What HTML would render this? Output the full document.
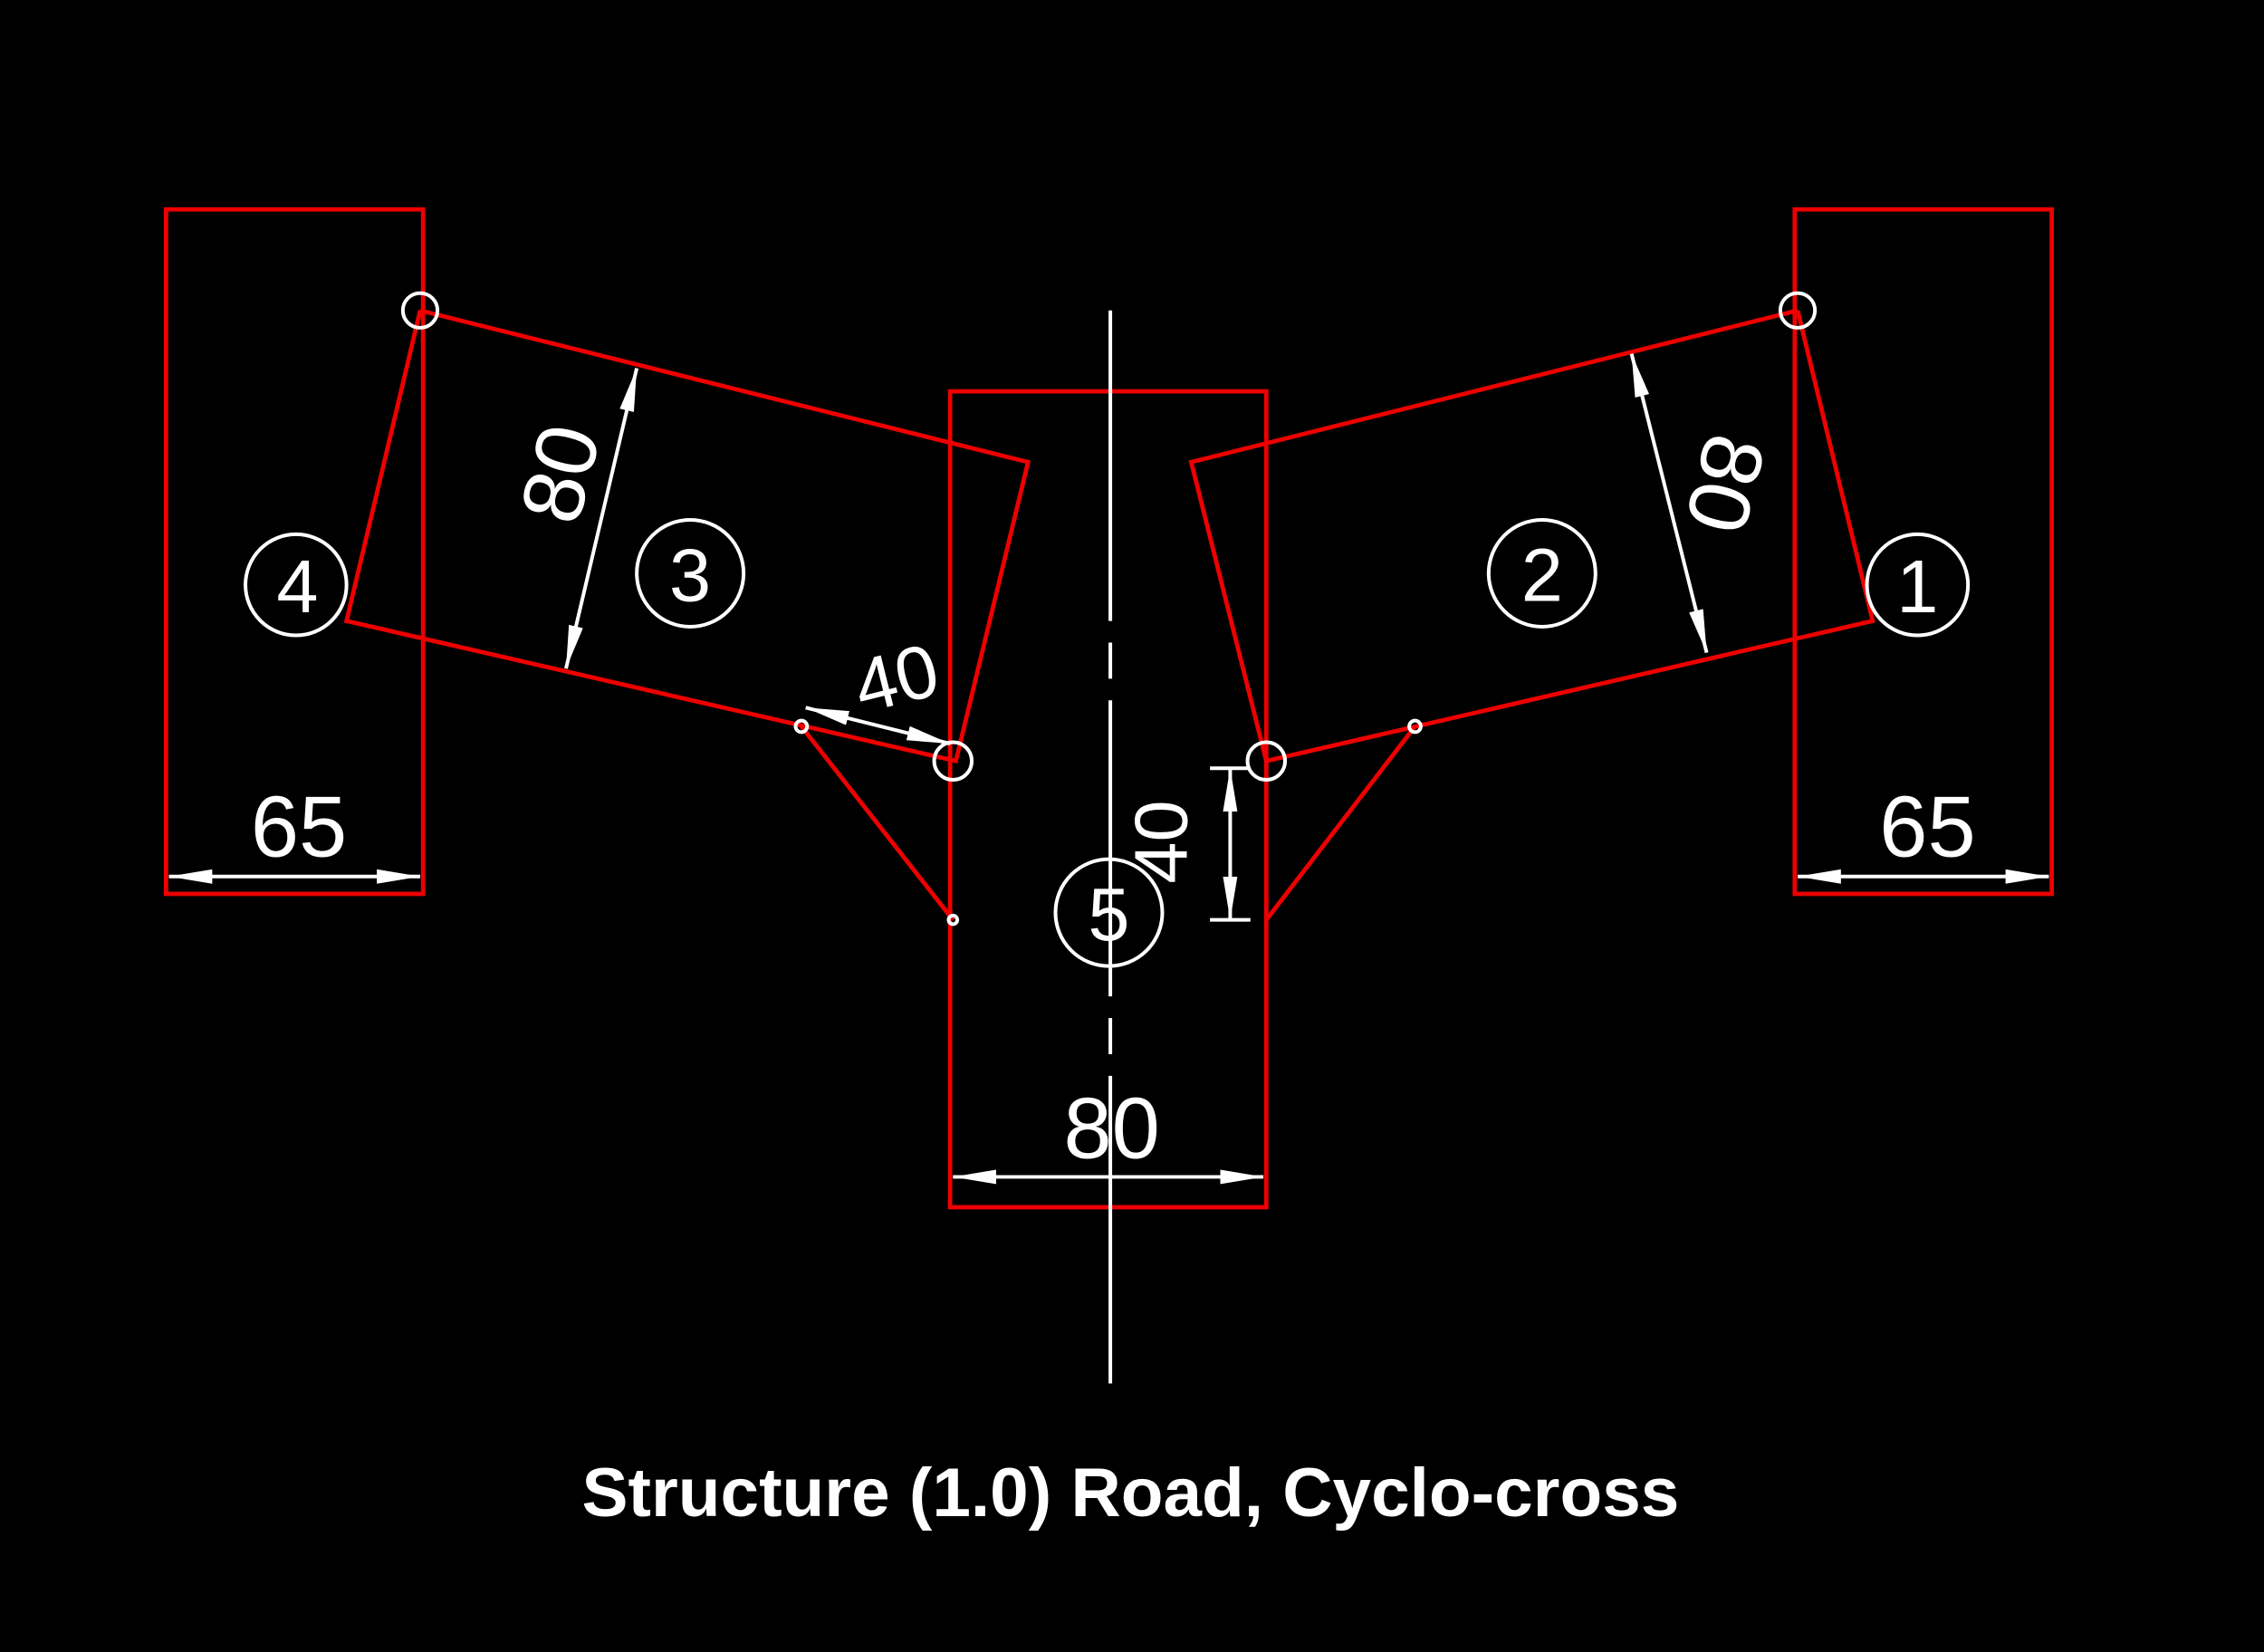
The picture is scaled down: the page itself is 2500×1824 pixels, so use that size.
<!DOCTYPE html>
<html><head><style>html,body{margin:0;padding:0;background:#000;width:2500px;height:1824px;overflow:hidden}</style></head>
<body>
<svg width="2500" height="1824" viewBox="0 0 1568 1144" preserveAspectRatio="none" xmlns="http://www.w3.org/2000/svg">
<rect width="1568" height="1144" fill="#000"/>
<defs>
<marker id="b" viewBox="0 0 10 10" refX="10" refY="5" markerWidth="30" markerHeight="10" preserveAspectRatio="none" orient="auto-start-reverse" markerUnits="userSpaceOnUse"><path d="M0,0 L10,5 L0,10 z" fill="#fff"/></marker>
</defs>
<g fill="none" stroke="#e00" stroke-width="3">
<rect x="115" y="145" width="178" height="474"/>
<rect x="1243" y="145" width="178" height="474"/>
<rect x="658" y="271" width="219" height="565"/>
<polyline points="291,215 712,320 662,527 240,430 291,215"/>
<polyline points="1245,215 825,320 877,527 1297,430 1245,215"/>
<line x1="555" y1="503" x2="660" y2="637"/>
<line x1="980" y1="503" x2="877" y2="637"/>
</g>
<g fill="none" stroke="#fff" stroke-width="2.5">
<line x1="769" y1="215" x2="769" y2="430"/>
<line x1="769" y1="445" x2="769" y2="470"/>
<line x1="769" y1="485" x2="769" y2="690"/>
<line x1="769" y1="705" x2="769" y2="730"/>
<line x1="769" y1="745" x2="769" y2="958"/>
<circle cx="291" cy="215" r="12"/><circle cx="660" cy="527" r="13"/>
<circle cx="1245" cy="215" r="12"/><circle cx="877" cy="527" r="13"/>
<circle cx="555" cy="503" r="4"/><circle cx="980" cy="503" r="4"/><circle cx="660" cy="637" r="3"/>
<circle cx="205" cy="405" r="35"/><circle cx="478" cy="397" r="37"/>
<circle cx="1068" cy="397" r="37"/><circle cx="1328" cy="405" r="35"/>
<circle cx="768" cy="632" r="37"/>
<line x1="441" y1="255" x2="392" y2="463" marker-start="url(#b)" marker-end="url(#b)"/>
<line x1="1130" y1="245" x2="1182" y2="452" marker-start="url(#b)" marker-end="url(#b)"/>
<line x1="558" y1="490" x2="658" y2="515" marker-start="url(#b)" marker-end="url(#b)"/>
<line x1="852" y1="532" x2="852" y2="637" marker-start="url(#b)" marker-end="url(#b)"/>
<line x1="838" y1="532" x2="866" y2="532"/><line x1="838" y1="637" x2="866" y2="637"/>
<line x1="117" y1="607" x2="291" y2="607" marker-start="url(#b)" marker-end="url(#b)"/>
<line x1="1245" y1="607" x2="1419" y2="607" marker-start="url(#b)" marker-end="url(#b)"/>
<line x1="660" y1="815" x2="875" y2="815" marker-start="url(#b)" marker-end="url(#b)"/>
</g>
<g fill="#fff" font-family="'Liberation Sans',sans-serif" font-size="60" text-anchor="middle">
<text x="206" y="424" font-size="52">4</text>
<text x="478" y="416" font-size="52">3</text>
<text x="1068" y="416" font-size="52">2</text>
<text x="1328" y="424" font-size="52">1</text>
<text x="768" y="651" font-size="52">5</text>
<text x="207" y="593">65</text>
<text x="1335" y="593">65</text>
<text x="770" y="802">80</text>
<text transform="translate(408,333) rotate(-76)">80</text>
<text transform="translate(1175,330) rotate(104)">80</text>
<text transform="translate(625,487) rotate(-14)" font-size="52">40</text>
<text transform="translate(822,583) rotate(-90)" font-size="52">40</text>
</g>
<text x="783" y="1050" fill="#fff" font-family="'Liberation Sans',sans-serif" font-weight="bold" font-size="48" text-anchor="middle">Structure (1.0) Road, Cyclo-cross</text>
</svg>
</body></html>
